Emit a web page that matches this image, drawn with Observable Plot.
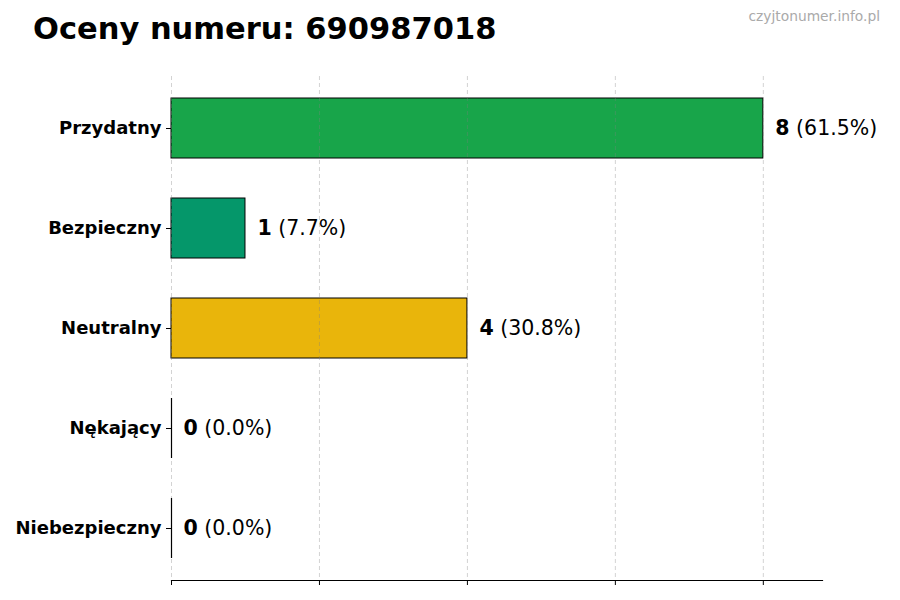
<!DOCTYPE html>
<html>
<head>
<meta charset="utf-8">
<script src="https://cdn.jsdelivr.net/npm/d3@7"></script>
<script src="https://cdn.jsdelivr.net/npm/@observablehq/plot@0.6"></script>
<style>
  body { margin: 0; background: #fff; font-family: "DejaVu Sans", sans-serif; }
  #wrap { position: relative; width: 900px; height: 600px; overflow: hidden; }
  #title { position: absolute; left: 33px; top: 14px; font-size: 30.5px; font-weight: bold; line-height: 1; color: #000; white-space: nowrap; }
  #mark { position: absolute; right: 20px; top: 10px; font-size: 13.8px; line-height: 1; color: #aaaaaa; white-space: nowrap; }
  #chart { position: absolute; left: 0; top: 0; }
  #chart svg { font-family: "DejaVu Sans", sans-serif; }
  #chart g[aria-label="y-axis tick label"] text { font-weight: bold; }
</style>
</head>
<body>
<div id="wrap">
  <div id="chart"></div>
  <div id="title">Oceny numeru: 690987018</div>
  <div id="mark">czyjtonumer.info.pl</div>
</div>
<script>
const categories = ["Przydatny", "Bezpieczny", "Neutralny", "Nękający", "Niebezpieczny"];
const counts = [8, 1, 4, 0, 0];
const percents = ["61.5", "7.7", "30.8", "0.0", "0.0"];
const colors = ["#18a54a", "#05976a", "#e9b50b", "#ea580c", "#dc2626"];
const xTicks = [0, 2, 4, 6, 8];
const xMax = 8.8;

const data = categories.map((c, i) => ({
  category: c, count: counts[i], pct: "(" + percents[i] + "%)", color: colors[i]
}));

const labelFont = 20.5;
const digitW = 0.696 * labelFont;
const spaceW = 0.318 * labelFont;
const lengths = Array.from(new Set(data.map(d => String(d.count).length)));
const zeroData = data.filter(d => d.count === 0);

const plot = Plot.plot({
  width: 900,
  height: 600,
  marginLeft: 171,
  marginRight: 78,
  marginTop: 76,
  marginBottom: 20,
  style: { fontFamily: "DejaVu Sans, sans-serif", background: "transparent" },
  x: { domain: [0, xMax] },
  y: { domain: categories, paddingInner: 0.4, paddingOuter: 0.22 },
  marks: [
    Plot.barX(data, { x: "count", y: "category", fill: "color", stroke: "#000", strokeWidth: 1 }),
    Plot.gridX({ ticks: xTicks, stroke: "gray", strokeOpacity: 0.35, strokeDasharray: "4,3" }),
    Plot.tickX(zeroData, { x: "count", y: "category", stroke: "#000", strokeWidth: 1.2 }),
    Plot.frame({ anchor: "bottom", stroke: "#000", strokeWidth: 1.2 }),
    Plot.axisX({ ticks: xTicks, tickSize: 5, tickFormat: () => "", label: null, stroke: "#000" }),
    Plot.axisY({ tickSize: 5, tickPadding: 5, fontSize: 18, fontWeight: "bold", label: null, fill: "#000" }),
    Plot.text(data, { x: "count", y: "category", text: d => String(d.count), dx: 12, textAnchor: "start", fontSize: labelFont, fontWeight: "bold", fill: "#000" }),
    ...lengths.map(len =>
      Plot.text(data.filter(d => String(d.count).length === len), {
        x: "count", y: "category", text: "pct",
        dx: 12 + digitW * len + spaceW, textAnchor: "start", fontSize: labelFont, fill: "#000"
      })
    )
  ]
});
document.getElementById("chart").appendChild(plot);
</script>
</body>
</html>
